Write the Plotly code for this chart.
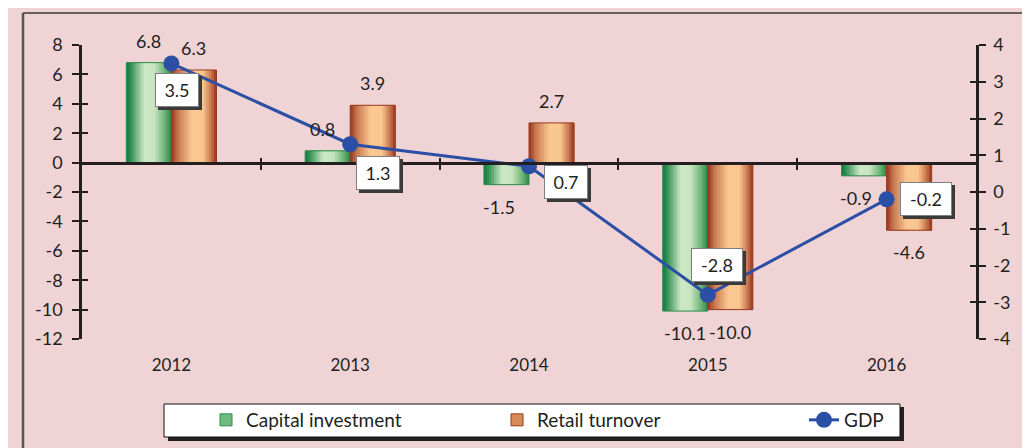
import plotly.graph_objects as go

# ---------------- data ----------------
years = ["2012", "2013", "2014", "2015", "2016"]
capital_investment = [6.8, 0.8, -1.5, -10.1, -0.9]
retail_turnover = [6.3, 3.9, 2.7, -10.0, -4.6]
gdp = [3.5, 1.3, 0.7, -2.8, -0.2]

left_ticks = [-12, -10, -8, -6, -4, -2, 0, 2, 4, 6, 8]
right_ticks = [-4, -3, -2, -1, 0, 1, 2, 3, 4]

# ---------------- styles ----------------
FONT = "Lato"
TXT = "#231f20"
BG = "#efd3d5"
AX = "#231f20"
BAR_W = 0.252
N_SLICES = 18
FS = 18
LABEL_GAP = 22  # px between bar end and value label centre

green_stops = [(0.0, (14, 122, 58)), (0.12, (60, 150, 90)), (0.40, (205, 232, 198)),
               (0.62, (200, 228, 192)), (0.85, (110, 180, 120)), (1.0, (40, 135, 70))]
orange_stops = [(0.0, (150, 52, 30)), (0.15, (200, 120, 80)), (0.45, (251, 200, 146)),
                (0.70, (250, 198, 142)), (0.88, (200, 120, 80)), (1.0, (150, 52, 30))]

# value-label horizontal nudges (px)
green_label_dx = [0, -5, -7, 0, -8]
orange_label_dx = [0, 0, 0, 0, 0]
# GDP label offsets (pixels) relative to the point
gdp_label_shift = [(6, -27), (28, -29), (37, -16), (9, 30), (39, 0)]

x_idx = list(range(len(years)))

# page body has an 8px margin: draw the figure in page coordinates minus 8
OFF = 8
W, H = 1030 - OFF, 448 - OFF


def interp(stops, t):
    for (t0, c0), (t1, c1) in zip(stops[:-1], stops[1:]):
        if t0 <= t <= t1:
            f = (t - t0) / (t1 - t0) if t1 > t0 else 0
            c = [round(a + (b - a) * f) for a, b in zip(c0, c1)]
            return f"rgb({c[0]},{c[1]},{c[2]})"
    c = stops[-1][1]
    return f"rgb({c[0]},{c[1]},{c[2]})"


fig = go.Figure()

series = [
    ("Capital investment", capital_investment, -BAR_W, green_stops, "#2e8b4e", "#6fba7e",
     green_label_dx),
    ("Retail turnover", retail_turnover, 0.0, orange_stops, "#98391f", "#d98a5a",
     orange_label_dx),
]

for name, vals, off, stops, edge, legend_col, ldx in series:
    step = BAR_W / N_SLICES
    for i in range(N_SLICES):
        fig.add_trace(go.Bar(
            x=x_idx, y=vals, offset=off + i * step, width=BAR_W - i * step,
            marker=dict(color=interp(stops, (i + 0.5) / N_SLICES), line=dict(width=0)),
            showlegend=False, hoverinfo="skip", xaxis="x", yaxis="y"))
    # outline
    fig.add_trace(go.Bar(
        x=x_idx, y=vals, offset=off, width=BAR_W,
        marker=dict(color="rgba(0,0,0,0)", line=dict(color=edge, width=1)),
        showlegend=False, hoverinfo="skip", xaxis="x", yaxis="y"))
    # value labels
    for xi, v, dx in zip(x_idx, vals, ldx):
        fig.add_annotation(x=xi + off + BAR_W / 2, y=v, xref="x", yref="y",
                           text=f"{v:.1f}", showarrow=False, xshift=dx,
                           yshift=LABEL_GAP if v >= 0 else -LABEL_GAP,
                           font=dict(family=FONT, size=FS, color=TXT))
    # legend entry
    fig.add_trace(go.Bar(
        x=[None], y=[None], name=name, legend="legend",
        marker=dict(color=legend_col, line=dict(color=edge, width=1)),
        xaxis="x", yaxis="y"))

fig.add_trace(go.Scatter(
    x=x_idx, y=gdp, name="GDP", mode="lines+markers", legend="legend2",
    line=dict(color="#2a4fa5", width=3),
    marker=dict(color="#2a4fa5", size=16),
    xaxis="x", yaxis="y2", cliponaxis=False))

# dummy traces so overlay axes render
for xa, ya in [("x2", "y3"), ("x3", "y4")]:
    fig.add_trace(go.Scatter(x=[None], y=[None], xaxis=xa, yaxis=ya,
                             showlegend=False, hoverinfo="skip"))

# GDP value boxes with shadows (shadow box carries no text)
BOX_W, BOX_H = 32, 22
for xi, v, (dx, dy) in zip(x_idx, gdp, gdp_label_shift):
    bw = BOX_W + (8 if v < 0 else 0)
    fig.add_annotation(x=xi, y=v, xref="x", yref="y2", text="&nbsp;",
                       showarrow=False, xshift=dx + 3, yshift=dy - 3,
                       width=bw, height=BOX_H,
                       font=dict(family=FONT, size=FS, color="#3a3a3a"),
                       bgcolor="#3a3a3a", bordercolor="#3a3a3a", borderwidth=1, borderpad=5)
    fig.add_annotation(x=xi, y=v, xref="x", yref="y2", text=f"{v:.1f}",
                       showarrow=False, xshift=dx, yshift=dy,
                       width=bw, height=BOX_H,
                       font=dict(family=FONT, size=FS, color=TXT),
                       bgcolor="white", bordercolor="#808080", borderwidth=1, borderpad=5)

# plot area in page pixels: x 82..976, y 45..339
L, T = 82 - OFF, 45 - OFF
R = W - (976 - OFF)
B = H - (339 - OFF)
pw, ph = W - L - R, H - T - B


def px_x(p):
    return (p - OFF - L) / pw


def px_y(p):
    return (H - B - (p - OFF)) / ph


zero_pos = (0 - left_ticks[0]) / (left_ticks[-1] - left_ticks[0])
xr = [-0.5, len(years) - 0.5]
bounds = [i + 0.5 for i in range(len(years) - 1)]

legend_common = dict(orientation="h", yanchor="middle", y=px_y(420),
                     bgcolor="rgba(0,0,0,0)", borderwidth=0,
                     font=dict(family=FONT, size=19, color=TXT))

fig.update_layout(
    width=W, height=H,
    margin=dict(l=L, r=R, t=T, b=B, autoexpand=False),
    paper_bgcolor=BG, plot_bgcolor=BG,
    barmode="overlay",
    font=dict(family=FONT, size=FS, color=TXT),
    xaxis=dict(range=xr, tickvals=x_idx, ticktext=years, showline=False, ticks="",
               showgrid=False, zeroline=False, ticklabelstandoff=14,
               tickfont=dict(family=FONT, size=17, color=TXT)),
    xaxis2=dict(range=xr, overlaying="x", anchor="free", position=zero_pos,
                tickvals=bounds, showticklabels=False, ticks="outside", ticklen=6,
                tickwidth=1.5, tickcolor=AX, showline=True, linecolor=AX, linewidth=2.5,
                showgrid=False, zeroline=False),
    xaxis3=dict(range=xr, overlaying="x", anchor="free", position=zero_pos,
                tickvals=bounds, showticklabels=False, ticks="inside", ticklen=5,
                tickwidth=1.5, tickcolor=AX, showline=False, showgrid=False, zeroline=False),
    yaxis=dict(range=[left_ticks[0], left_ticks[-1]], tickvals=left_ticks,
               ticktext=[str(t) for t in left_ticks], ticks="outside", ticklen=7,
               tickwidth=1.5, tickcolor=AX, showline=True, linecolor=AX, linewidth=2.5,
               showgrid=False, zeroline=False, ticklabelstandoff=6,
               tickfont=dict(family=FONT, size=FS, color=TXT)),
    yaxis2=dict(range=[right_ticks[0], right_ticks[-1]], tickvals=right_ticks,
                ticktext=[str(t) for t in right_ticks], overlaying="y", side="right",
                anchor="x", ticks="outside", ticklen=7, tickwidth=1.5, tickcolor=AX,
                showline=True, linecolor=AX, linewidth=2.5, showgrid=False, zeroline=False,
                ticklabelstandoff=4, tickfont=dict(family=FONT, size=FS, color=TXT)),
    yaxis3=dict(range=[left_ticks[0], left_ticks[-1]], tickvals=left_ticks,
                overlaying="y", side="left", anchor="x", ticks="inside", ticklen=6,
                tickwidth=1.5, tickcolor=AX, showticklabels=False, showline=False,
                showgrid=False, zeroline=False),
    yaxis4=dict(range=[right_ticks[0], right_ticks[-1]], tickvals=right_ticks,
                overlaying="y", side="right", anchor="x", ticks="inside", ticklen=6,
                tickwidth=1.5, tickcolor=AX, showticklabels=False, showline=False,
                showgrid=False, zeroline=False),
    legend=dict(**legend_common, x=px_x(206), xanchor="left",
                entrywidth=246, entrywidthmode="pixels", traceorder="normal"),
    legend2=dict(**legend_common, x=px_x(804), xanchor="left"),
    showlegend=True,
    shapes=[
        # outer frame (top + left)
        dict(type="line", xref="paper", yref="paper", x0=px_x(23), x1=px_x(1040),
             y0=px_y(13), y1=px_y(13), line=dict(color="#3a3a3a", width=1.5)),
        dict(type="line", xref="paper", yref="paper", x0=px_x(23), x1=px_x(23),
             y0=px_y(13), y1=px_y(460), line=dict(color="#555", width=2.5)),
        # legend shadow + box
        dict(type="rect", xref="paper", yref="paper", x0=px_x(168), x1=px_x(904),
             y0=px_y(407), y1=px_y(441), fillcolor="#222", line=dict(width=0)),
        dict(type="rect", xref="paper", yref="paper", x0=px_x(164), x1=px_x(900),
             y0=px_y(404), y1=px_y(437), fillcolor="white",
             line=dict(color="#111", width=1)),
    ],
)

fig.write_html("out.html")
